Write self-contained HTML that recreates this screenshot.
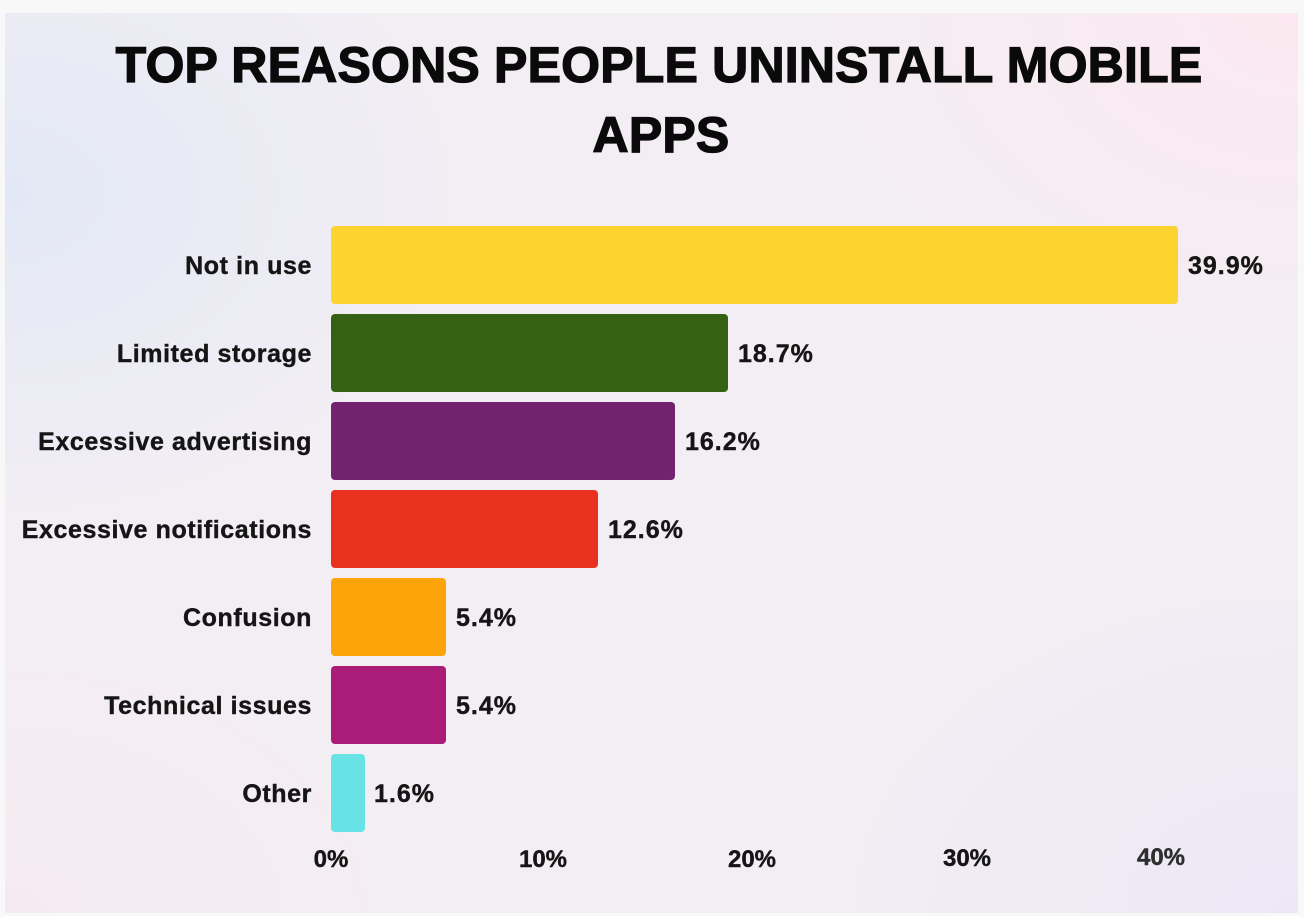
<!DOCTYPE html>
<html>
<head>
<meta charset="utf-8">
<style>
  html, body { margin: 0; padding: 0; }
  body { width: 1304px; height: 916px; background: #f8f8f8; position: relative; overflow: hidden; }
  .card {
    position: absolute; left: 5px; top: 13px; width: 1293px; height: 900px;
    background:
      radial-gradient(ellipse 700px 500px at 0% 20%, rgba(226,232,246,0.95), rgba(226,232,246,0) 70%),
      radial-gradient(ellipse 700px 500px at 100% 0%, rgba(252,232,240,0.95), rgba(252,232,240,0) 70%),
      radial-gradient(ellipse 700px 500px at 100% 100%, rgba(236,232,246,0.95), rgba(236,232,246,0) 70%),
      radial-gradient(ellipse 600px 400px at 0% 100%, rgba(246,234,242,0.95), rgba(246,234,242,0) 70%),
      #f3eef3;
  }
  svg { position: absolute; left: 0; top: 0; }
  text { font-family: "Liberation Sans", Arial, sans-serif; font-weight: bold; }
</style>
</head>
<body>
<div class="card"></div>
<svg width="1304" height="916" viewBox="0 0 1304 916">
  <!-- Title -->
  <g font-size="50" fill="#0a0a0a" stroke="#0a0a0a" stroke-width="1.3" letter-spacing="0.2" text-anchor="middle">
    <text x="659" y="82">TOP REASONS PEOPLE UNINSTALL MOBILE</text>
    <text x="661" y="152">APPS</text>
  </g>

  <!-- Bars -->
  <rect x="331" y="226" width="847" height="78" rx="4" fill="#fdd330"/>
  <rect x="331" y="314" width="397" height="78" rx="4" fill="#356212"/>
  <rect x="331" y="402" width="344" height="78" rx="4" fill="#72236f"/>
  <rect x="331" y="490" width="267" height="78" rx="4" fill="#e8321f"/>
  <rect x="331" y="578" width="115" height="78" rx="4" fill="#fca40a"/>
  <rect x="331" y="666" width="115" height="78" rx="4" fill="#ab1c79"/>
  <rect x="331" y="754" width="34" height="78" rx="4" fill="#67e3e6"/>

  <!-- Category labels -->
  <g font-size="25" letter-spacing="0.6" fill="#151515" stroke="#151515" stroke-width="0.4" text-anchor="end">
    <text x="312" y="274">Not in use</text>
    <text x="312" y="362">Limited storage</text>
    <text x="312" y="450">Excessive advertising</text>
    <text x="312" y="538">Excessive notifications</text>
    <text x="312" y="626">Confusion</text>
    <text x="312" y="714">Technical issues</text>
    <text x="312" y="802">Other</text>
  </g>

  <!-- Value labels -->
  <g font-size="25" letter-spacing="1" fill="#151515" stroke="#151515" stroke-width="0.4">
    <text x="1188" y="274">39.9%</text>
    <text x="738" y="362">18.7%</text>
    <text x="685" y="450">16.2%</text>
    <text x="608" y="538">12.6%</text>
    <text x="456" y="626">5.4%</text>
    <text x="456" y="714">5.4%</text>
    <text x="374" y="802">1.6%</text>
  </g>

  <!-- Axis tick labels -->
  <g font-size="24" text-anchor="middle" fill="#151515" stroke="#151515" stroke-width="0.4">
    <text x="331" y="867">0%</text>
    <text x="543" y="867">10%</text>
    <text x="752" y="867">20%</text>
    <text x="967" y="866">30%</text>
    <text x="1161" y="865" fill="#2e2e2e" stroke="#2e2e2e">40%</text>
  </g>
</svg>
</body>
</html>
